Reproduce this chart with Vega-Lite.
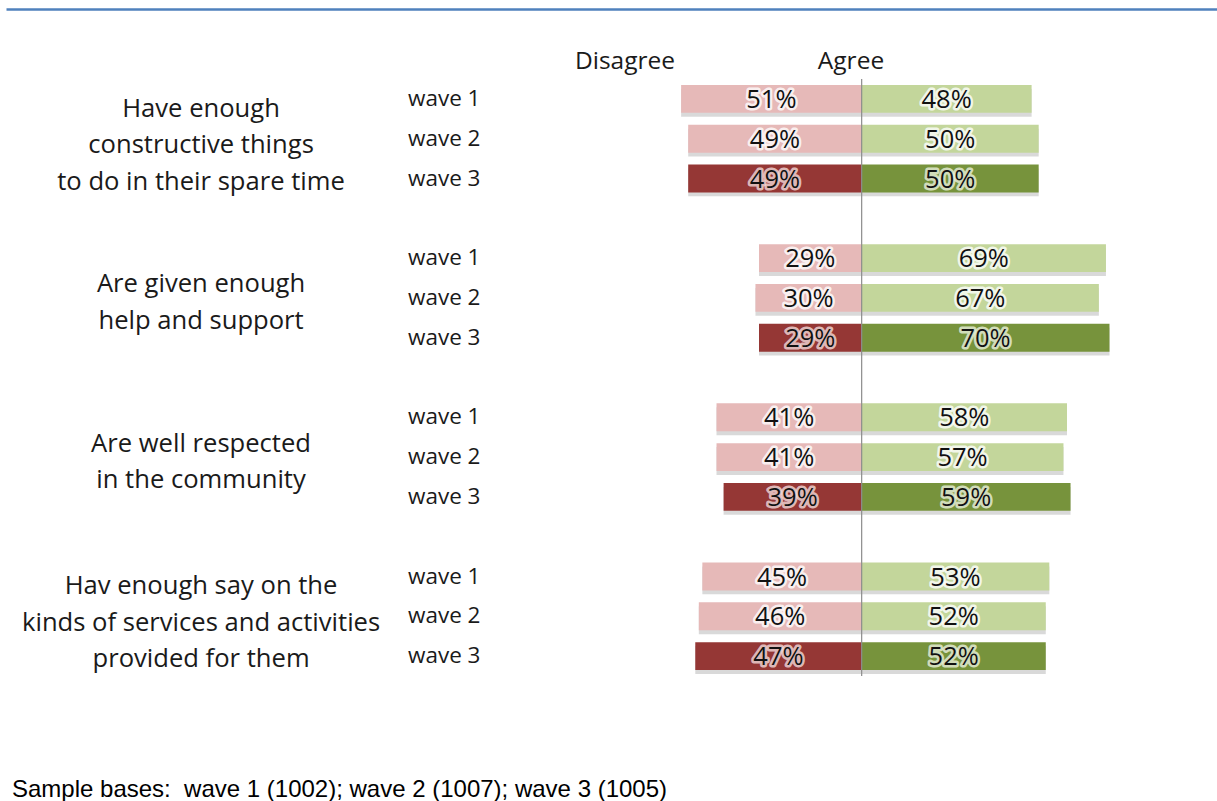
{
  "$schema": "https://vega.github.io/schema/vega-lite/v6.json",
  "width": 1211,
  "height": 597,
  "autosize": {"type": "none"},
  "padding": {"left": 6, "top": 79, "right": 0, "bottom": 125},
  "background": "white",
  "config": {"view": {"stroke": null}, "text": {"font": "Open Sans", "color": "#1a1a1a"}},
  "title": {
    "text": "Sample bases: \u00a0wave 1 (1002); wave 2 (1007); wave 3 (1005)",
    "orient": "bottom", "anchor": "start", "frame": "group", "offset": 101, "dx": 6,
    "font": "Liberation Sans", "fontSize": 24, "fontWeight": "normal", "color": "#000000"
  },
  "data": {
    "values": [
      {"question": "Have enough|constructive things|to do in their spare time", "wave": "wave 1", "disagree": 0.51, "agree": 0.48},
      {"question": "Have enough|constructive things|to do in their spare time", "wave": "wave 2", "disagree": 0.49, "agree": 0.50},
      {"question": "Have enough|constructive things|to do in their spare time", "wave": "wave 3", "disagree": 0.49, "agree": 0.50},
      {"question": "Are given enough|help and support", "wave": "wave 1", "disagree": 0.29, "agree": 0.69},
      {"question": "Are given enough|help and support", "wave": "wave 2", "disagree": 0.30, "agree": 0.67},
      {"question": "Are given enough|help and support", "wave": "wave 3", "disagree": 0.29, "agree": 0.70},
      {"question": "Are well respected|in the community", "wave": "wave 1", "disagree": 0.41, "agree": 0.58},
      {"question": "Are well respected|in the community", "wave": "wave 2", "disagree": 0.41, "agree": 0.57},
      {"question": "Are well respected|in the community", "wave": "wave 3", "disagree": 0.39, "agree": 0.59},
      {"question": "Hav enough say on the|kinds of services and activities|provided for them", "wave": "wave 1", "disagree": 0.45, "agree": 0.53},
      {"question": "Hav enough say on the|kinds of services and activities|provided for them", "wave": "wave 2", "disagree": 0.46, "agree": 0.52},
      {"question": "Hav enough say on the|kinds of services and activities|provided for them", "wave": "wave 3", "disagree": 0.47, "agree": 0.52}
    ]
  },
  "layer": [
    {
      "layer": [
        {
          "mark": {"type": "bar", "color": "#808080", "opacity": 0.3},
          "encoding": {
            "x": {"field": "disagree", "type": "quantitative", "axis": null, "scale": {"domain": [-1.0037, 2.417], "reverse": true, "zero": false, "nice": false}},
            "x2": {"datum": 0},
            "y": {"field": "question", "type": "nominal", "axis": null, "scale": {"domain": ["Have enough|constructive things|to do in their spare time", "Are given enough|help and support", "Are well respected|in the community", "Hav enough say on the|kinds of services and activities|provided for them"], "paddingInner": 0.25, "paddingOuter": 0}},
            "yOffset": {"field": "wave", "type": "nominal", "scale": {"type": "band", "paddingInner": 0.3, "paddingOuter": 0.15, "align": 0.83}}
          }
        }
      ]
    },
    {
      "layer": [
        {
          "mark": {"type": "bar", "color": "#808080", "opacity": 0.3},
          "encoding": {
            "x": {"field": "agree", "type": "quantitative", "axis": null, "scale": {"domain": [-2.417, 1.0037], "zero": false, "nice": false}},
            "x2": {"datum": 0},
            "y": {"field": "question", "type": "nominal", "axis": null},
            "yOffset": {"field": "wave", "type": "nominal", "scale": {"type": "band", "paddingInner": 0.3, "paddingOuter": 0.15, "align": 0.83}}
          }
        }
      ]
    },
    {
      "layer": [
        {
          "mark": {"type": "bar"},
          "encoding": {
            "x": {"field": "disagree", "type": "quantitative", "axis": null, "scale": {"domain": [-1.0037, 2.417], "reverse": true, "zero": false, "nice": false}},
            "x2": {"datum": 0},
            "y": {"field": "question", "type": "nominal", "axis": null},
            "yOffset": {"field": "wave", "type": "nominal", "scale": {"type": "band", "paddingInner": 0.3, "paddingOuter": 0.15}},
            "color": {"condition": {"test": "datum.wave === 'wave 3'", "value": "#953735"}, "value": "#e6b9b8"}
          }
        }
      ]
    },
    {
      "layer": [
        {
          "mark": {"type": "bar"},
          "encoding": {
            "x": {"field": "agree", "type": "quantitative", "scale": {"domain": [-2.417, 1.0037], "zero": false, "nice": false},
                  "axis": {"orient": "top", "offset": 70, "labels": false, "ticks": false, "grid": false, "title": null, "domainColor": "#4f81bd", "domainWidth": 2.5}},
            "x2": {"datum": 0},
            "y": {"field": "question", "type": "nominal", "axis": null},
            "yOffset": {"field": "wave", "type": "nominal", "scale": {"type": "band", "paddingInner": 0.3, "paddingOuter": 0.15}},
            "color": {"condition": {"test": "datum.wave === 'wave 3'", "value": "#77933c"}, "value": "#c3d69b"}
          }
        },
        {
          "data": {"values": [{}]},
          "mark": {"type": "rule", "color": "#8c8c8c", "strokeWidth": 1.2},
          "encoding": {
            "x": {"datum": 0, "type": "quantitative", "scale": {"domain": [-2.417, 1.0037], "zero": false, "nice": false}}
          }
        },
        {
          "mark": {"type": "text", "fontSize": 22.5, "baseline": "middle", "align": "left"},
          "encoding": {
            "x": {"datum": -1.2816, "type": "quantitative", "scale": {"domain": [-2.417, 1.0037], "zero": false, "nice": false}},
            "y": {"field": "question", "type": "nominal", "axis": null},
            "yOffset": {"field": "wave", "type": "nominal"},
            "text": {"field": "wave", "type": "nominal"}
          }
        },
        {
          "transform": [{"filter": "datum.wave === 'wave 2' && length(split(datum.question, '|')) === 3"}],
          "mark": {"type": "text", "fontSize": 25.6, "baseline": "middle", "align": "center", "lineBreak": "|", "lineHeight": 36.5, "dy": -30},
          "encoding": {
            "x": {"datum": -1.866, "type": "quantitative", "scale": {"domain": [-2.417, 1.0037], "zero": false, "nice": false}},
            "y": {"field": "question", "type": "nominal", "axis": null},
            "text": {"field": "question", "type": "nominal"}
          }
        },
        {
          "transform": [{"filter": "datum.wave === 'wave 2' && length(split(datum.question, '|')) === 2"}],
          "mark": {"type": "text", "fontSize": 25.6, "baseline": "middle", "align": "center", "lineBreak": "|", "lineHeight": 36.5, "dy": -13.5},
          "encoding": {
            "x": {"datum": -1.866, "type": "quantitative", "scale": {"domain": [-2.417, 1.0037], "zero": false, "nice": false}},
            "y": {"field": "question", "type": "nominal", "axis": null},
            "text": {"field": "question", "type": "nominal"}
          }
        },
        {
          "data": {"values": [{}]},
          "mark": {"type": "text", "text": "Disagree", "fontSize": 24.5, "baseline": "middle", "align": "center", "dy": -77},
          "encoding": {
            "x": {"datum": -0.6686, "type": "quantitative", "scale": {"domain": [-2.417, 1.0037], "zero": false, "nice": false}},
            "y": {"datum": "Have enough|constructive things|to do in their spare time", "type": "nominal", "axis": null}
          }
        },
        {
          "data": {"values": [{}]},
          "mark": {"type": "text", "text": "Agree", "fontSize": 24.5, "baseline": "middle", "align": "center", "dy": -77},
          "encoding": {
            "x": {"datum": -0.0302, "type": "quantitative", "scale": {"domain": [-2.417, 1.0037], "zero": false, "nice": false}},
            "y": {"datum": "Have enough|constructive things|to do in their spare time", "type": "nominal", "axis": null}
          }
        }
      ]
    },
    {
      "layer": [
        {
          "mark": {"type": "text", "fontSize": 25.5, "baseline": "middle", "align": "center", "strokeWidth": 5, "strokeOpacity": 0.8, "strokeJoin": "round", "dy": 1},
          "encoding": {
            "x": {"field": "disagree", "type": "quantitative", "axis": null, "scale": {"domain": [-2.0074, 4.834], "reverse": true, "zero": false, "nice": false}},
            "y": {"field": "question", "type": "nominal", "axis": null},
            "yOffset": {"field": "wave", "type": "nominal", "scale": {"type": "band", "paddingInner": 0.3, "paddingOuter": 0.15}},
            "text": {"field": "disagree", "type": "quantitative", "format": ".0%"},
            "stroke": {"condition": {"test": "datum.wave === 'wave 3'", "value": "#f2dcdb"}, "value": "#ffffff"},
            "color": {"condition": {"test": "datum.wave === 'wave 3'", "value": "#f2dcdb"}, "value": "#ffffff"}
          }
        },
        {
          "mark": {"type": "text", "fontSize": 25.5, "baseline": "middle", "align": "center", "color": "#111111", "dy": 1},
          "encoding": {
            "x": {"field": "disagree", "type": "quantitative", "axis": null, "scale": {"domain": [-2.0074, 4.834], "reverse": true, "zero": false, "nice": false}},
            "y": {"field": "question", "type": "nominal", "axis": null},
            "yOffset": {"field": "wave", "type": "nominal", "scale": {"type": "band", "paddingInner": 0.3, "paddingOuter": 0.15}},
            "text": {"field": "disagree", "type": "quantitative", "format": ".0%"}
          }
        }
      ]
    },
    {
      "layer": [
        {
          "mark": {"type": "text", "fontSize": 25.5, "baseline": "middle", "align": "center", "strokeWidth": 5, "strokeOpacity": 0.8, "strokeJoin": "round", "dy": 1},
          "encoding": {
            "x": {"field": "agree", "type": "quantitative", "axis": null, "scale": {"domain": [-4.834, 2.0074], "zero": false, "nice": false}},
            "y": {"field": "question", "type": "nominal", "axis": null},
            "yOffset": {"field": "wave", "type": "nominal", "scale": {"type": "band", "paddingInner": 0.3, "paddingOuter": 0.15}},
            "text": {"field": "agree", "type": "quantitative", "format": ".0%"},
            "stroke": {"condition": {"test": "datum.wave === 'wave 3'", "value": "#ebf1de"}, "value": "#ffffff"},
            "color": {"condition": {"test": "datum.wave === 'wave 3'", "value": "#ebf1de"}, "value": "#ffffff"}
          }
        },
        {
          "mark": {"type": "text", "fontSize": 25.5, "baseline": "middle", "align": "center", "color": "#111111", "dy": 1},
          "encoding": {
            "x": {"field": "agree", "type": "quantitative", "axis": null, "scale": {"domain": [-4.834, 2.0074], "zero": false, "nice": false}},
            "y": {"field": "question", "type": "nominal", "axis": null},
            "yOffset": {"field": "wave", "type": "nominal", "scale": {"type": "band", "paddingInner": 0.3, "paddingOuter": 0.15}},
            "text": {"field": "agree", "type": "quantitative", "format": ".0%"}
          }
        }
      ]
    }
  ],
  "resolve": {"scale": {"x": "independent", "yOffset": "independent"}, "axis": {"x": "independent"}}
}
